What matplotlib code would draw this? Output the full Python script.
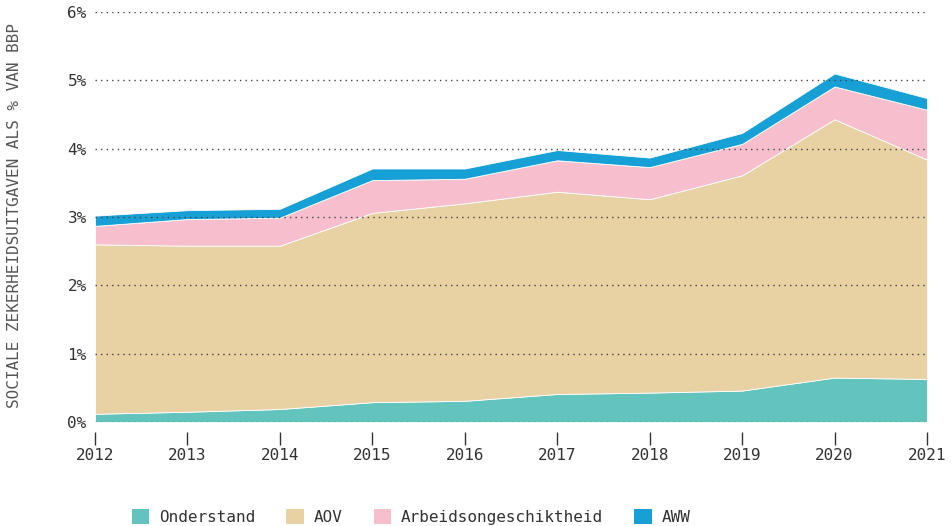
import numpy as np
import matplotlib
matplotlib.use("Agg")
import matplotlib.pyplot as plt
from matplotlib.patches import Patch

# sociale zekerheidsuitgaven als % van BBP
years = [2012, 2013, 2014, 2015, 2016, 2017, 2018, 2019, 2020, 2021]
onderstand = [0.12, 0.15, 0.19, 0.29, 0.31, 0.41, 0.43, 0.46, 0.65, 0.63]
aov = [2.48, 2.43, 2.39, 2.77, 2.89, 2.96, 2.83, 3.15, 3.78, 3.21]
arbeid = [0.27, 0.39, 0.41, 0.48, 0.36, 0.46, 0.47, 0.46, 0.48, 0.73]
aww = [0.15, 0.13, 0.13, 0.17, 0.15, 0.15, 0.14, 0.16, 0.19, 0.17]

labels = ["Onderstand", "AOV", "Arbeidsongeschiktheid", "AWW"]
colors = ["#62c4bc", "#e8d1a2", "#f7bfcd", "#17a0d6"]

plt.rcParams['font.family'] = ['DejaVu Sans Mono']

fig = plt.figure(figsize=(9.53, 5.26), dpi=100)
ax = fig.add_axes([95/953, 1-422/526, (927-95)/953, (422-12)/526])

ax.stackplot(years, onderstand, aov, arbeid, aww, colors=colors,
             edgecolor='white', linewidth=0.6, zorder=1)

ax.set_xlim(2012, 2021)
ax.set_ylim(0, 6)
ax.set_yticks(range(0, 7))
ax.set_yticklabels([f"{i}%" for i in range(0, 7)])
ax.set_xticks(years)

ax.yaxis.grid(True, color='#444444', linestyle=(0, (1, 3)), linewidth=1, zorder=3)
ax.set_axisbelow(False)
for s in ax.spines.values():
    s.set_visible(False)
# ticks sit a little below the plot area
ax.spines['bottom'].set_position(('outward', 7))

ax.tick_params(axis='y', length=0, pad=6, labelsize=11.5, colors='#333333')
ax.tick_params(axis='x', length=9, width=1, direction='out', pad=3,
               labelsize=11.5, colors='#333333')

fig.text(15/953, 1-216/526, "SOCIALE ZEKERHEIDSUITGAVEN ALS % VAN BBP",
         rotation=90, ha='center', va='center', fontsize=11.5, color='#555555')

handles = [Patch(facecolor=c, edgecolor='none') for c in colors]
fig.legend(handles, labels, loc='center', bbox_to_anchor=(411/953, 1-517/526),
           ncol=4, frameon=False, fontsize=11.5, handlelength=1.1, handleheight=1.1,
           handletextpad=0.6, columnspacing=1.95, labelcolor='#333333')

fig.savefig("out.png", dpi=100)
